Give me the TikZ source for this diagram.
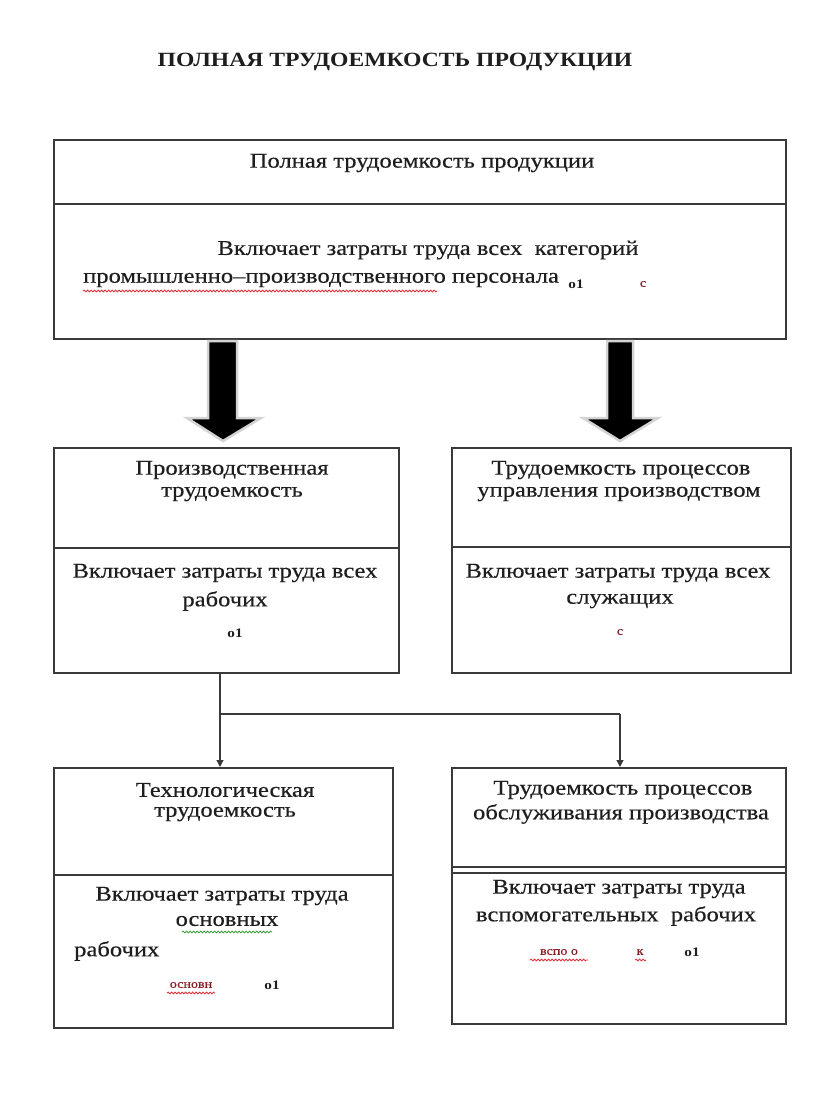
\documentclass[tikz,border=0pt]{standalone}
\usepackage{fontspec}
\setmainfont{Liberation Serif}
\newfontfamily\bodyf[FakeStretch=1.17,FakeBold=0.35]{Liberation Serif}
\newfontfamily\headf[FakeStretch=1.17]{Liberation Serif}
\usetikzlibrary{arrows.meta,decorations.pathmorphing}
\definecolor{ink}{HTML}{1E1E1E}
\definecolor{frame}{HTML}{3A3A3A}
\definecolor{shade}{HTML}{D4D4D4}
\definecolor{spell}{HTML}{E0303A}
\definecolor{spellg}{HTML}{40A040}
\tikzset{
 box/.style={draw=frame, line width=1.8pt, anchor=north west, inner sep=0pt},
 divider/.style={draw=frame, line width=1.8pt},
 txt/.style={text=ink, font=\bodyf\fontsize{21}{25}\selectfont, inner sep=0pt},
 ttl/.style={text=ink, font=\headf\bfseries\fontsize{20.2}{24}\selectfont, inner sep=0pt},
 small/.style={text=ink, font=\headf\bfseries\fontsize{13}{15}\selectfont, inner sep=0pt},
 smallred/.style={text=spell!60!black, font=\bodyf\fontsize{12}{14}\selectfont, inner sep=0pt},
 conn/.style={draw=frame, line width=1.3pt, -{Triangle[width=7pt,length=7pt]}},
 link/.style={draw=frame, line width=1.3pt},
 bigarrow/.style={fill=black, draw=shade, line width=2.5pt, line join=miter},
 squig/.style={draw=spell, line width=0.8pt, decorate, decoration={snake, amplitude=0.9pt, segment length=3.5pt}},
 squigg/.style={draw=spellg, line width=0.8pt, decorate, decoration={snake, amplitude=0.9pt, segment length=3.5pt}},
}
\begin{document}
\begin{tikzpicture}[x=1pt,y=-1pt]
\useasboundingbox[fill=white] (0,0) rectangle (816,1104);

% title
\node[ttl] (title) at (395,62) {ПОЛНАЯ ТРУДОЕМКОСТЬ ПРОДУКЦИИ};

% boxes
\node[box, minimum width=732pt, minimum height=199pt] (top) at (53,139) {};
\node[box, minimum width=345pt, minimum height=225pt] (b2l) at (53,447) {};
\node[box, minimum width=339pt, minimum height=225pt] (b2r) at (451,447) {};
\node[box, minimum width=339pt, minimum height=260pt] (b3l) at (53,767) {};
\node[box, minimum width=334pt, minimum height=256pt] (b3r) at (451,767) {};

% dividers
\draw[divider] (top.west |- 0,204) -- (top.east |- 0,204);
\draw[divider] (b2l.west |- 0,548) -- (b2l.east |- 0,548);
\draw[divider, line width=2.6pt] (b2r.west |- 0,547) -- (b2r.east |- 0,547);
\draw[divider] (b3l.west |- 0,875) -- (b3l.east |- 0,875);
\draw[divider, line width=1.3pt] (b3r.west |- 0,867) -- (b3r.east |- 0,867);
\draw[divider, line width=1.3pt] (b3r.west |- 0,873) -- (b3r.east |- 0,873);

% big block arrows
\path[bigarrow] (208,341) -- (237,341) -- (237,418) -- (261,418) -- (223,441) -- (187,418) -- (208,418) -- cycle;
\path[bigarrow] (607,341) -- (633,341) -- (633,418) -- (658,418) -- (620,441) -- (583,418) -- (607,418) -- cycle;

% connectors
\coordinate (j) at (220,714);
\coordinate (k) at (620,714);
\draw[conn] (j |- b2l.south) -- (j |- b3l.north);
\draw[link] (j) -- (k);
\draw[conn] (k) -- (k |- b3r.north);

% top box texts
\node[txt] (t1) at (422,163) {Полная трудоемкость продукции};
\node[txt] (t2) at (428,250) {Включает затраты труда всех\ \ категорий};
\node[txt, anchor=west] (t3) at (83,280) {промышленно–производственного персонала};
\draw[squig] (83,291) -- (437,291);
\node[small] (t4) at (576,284) {о1};
\node[smallred] (t5) at (643,284) {с};

% box 2 left
\node[txt] (l1) at (232,470) {Производственная};
\node[txt] (l2) at (232,494) {трудоемкость};
\node[txt] (l3) at (225,573) {Включает затраты труда всех};
\node[txt] (l4) at (225,601) {рабочих};
\node[small] (l5) at (235,633) {о1};

% box 2 right
\node[txt] (r1) at (621,470) {Трудоемкость процессов};
\node[txt] (r2) at (619,494) {управления производством};
\node[txt] (r3) at (618,573) {Включает затраты труда всех};
\node[txt] (r4) at (620,601) {служащих};
\node[smallred] (r5) at (620,632) {с};

% box 3 left
\node[txt] (m1) at (225,790) {Технологическая};
\node[txt] (m2) at (225,814) {трудоемкость};
\node[txt] (m3) at (222,896) {Включает затраты труда};
\node[txt] (m4) at (227,921) {основных};
\draw[squigg] (182,932) -- (272,932);
\node[txt, anchor=west] (m5) at (74,951) {рабочих};
\node[smallred] (m6) at (191,985) {основн};
\draw[squig] (167,993) -- (215,993);
\node[small] (m7) at (272,985) {о1};

% box 3 right
\node[txt] (n1) at (623,790) {Трудоемкость процессов};
\node[txt] (n2) at (621,814) {обслуживания производства};
\node[txt] (n3) at (619,889) {Включает затраты труда};
\node[txt] (n4) at (616,916) {вспомогательных\ \ рабочих};
\node[smallred] (n5) at (559,952) {вспо о};
\draw[squig] (530,960) -- (588,960);
\node[smallred] (n6) at (640,952) {к};
\draw[squig] (635,960) -- (646,960);
\node[small] (n7) at (692,952) {о1};
\end{tikzpicture}
\end{document}
